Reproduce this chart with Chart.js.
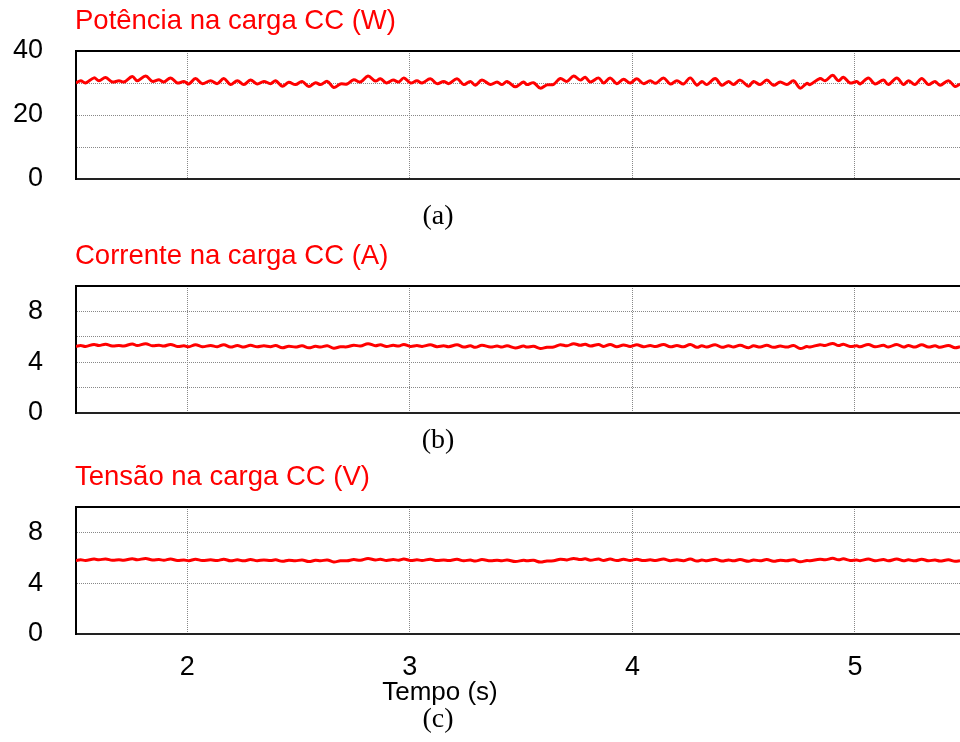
<!DOCTYPE html>
<html>
<head>
<meta charset="utf-8">
<script src="https://cdn.jsdelivr.net/npm/chart.js@4.4.1/dist/chart.umd.min.js"></script>
<style>
  body { margin: 0; background: #fff; width: 960px; height: 742px; overflow: hidden; position: relative;
         font-family: "Liberation Sans", Arial, sans-serif; }
  canvas { position: absolute; left: 0; }
  .titulo { position: absolute; left: 75px; color: #ff0000; font-size: 27.5px; line-height: 1; white-space: nowrap; }
  .legenda { position: absolute; left: 388px; width: 100px; text-align: center; line-height: 1;
             font-family: "Liberation Serif", "Times New Roman", serif; font-size: 28px; color: #000; }
  .eixo { position: absolute; left: 340px; width: 200px; text-align: center; font-size: 26px; line-height: 1; color: #000; }
  .mascara { position: absolute; left: 0; top: 421px; width: 70px; height: 9px; background: #fff; }
</style>
</head>
<body>
<canvas id="graficoPotencia" width="960" height="222" style="top:4px"></canvas>
<canvas id="graficoCorrente" width="960" height="221" style="top:239px"></canvas>
<canvas id="graficoTensao" width="960" height="242" style="top:460px"></canvas>

<div class="titulo" style="top:6px">Potência na carga CC (W)</div>
<div class="legenda" style="top:201px">(a)</div>
<div class="titulo" style="top:241px">Corrente na carga CC (A)</div>
<div class="mascara"></div>
<div class="legenda" style="top:425px">(b)</div>
<div class="titulo" style="top:462px">Tensão na carga CC (V)</div>
<div class="eixo" style="top:678px">Tempo (s)</div>
<div class="legenda" style="top:704px">(c)</div>

<script>
// tempo (s) dos pontos
const tempo = [
  1.500, 1.521, 1.543, 1.581, 1.603, 1.633, 1.663, 1.693, 1.715, 1.753,
  1.775, 1.813, 1.843, 1.873, 1.895, 1.925, 1.955, 1.985, 2.007, 2.037,
  2.067, 2.105, 2.135, 2.164, 2.194, 2.225, 2.254, 2.284, 2.314, 2.344,
  2.374, 2.397, 2.427, 2.456, 2.486, 2.516, 2.546, 2.576, 2.599, 2.629,
  2.658, 2.688, 2.718, 2.748, 2.778, 2.812, 2.845, 2.868, 2.895, 2.925,
  2.950, 2.973, 3.003, 3.032, 3.055, 3.092, 3.122, 3.152, 3.175, 3.212,
  3.242, 3.272, 3.294, 3.324, 3.362, 3.392, 3.414, 3.437, 3.474, 3.511,
  3.526, 3.556, 3.586, 3.616, 3.646, 3.676, 3.706, 3.736, 3.766, 3.788,
  3.811, 3.848, 3.871, 3.900, 3.930, 3.960, 3.990, 4.020, 4.050, 4.080,
  4.105, 4.140, 4.170, 4.200, 4.230, 4.260, 4.290, 4.312, 4.334, 4.372,
  4.402, 4.432, 4.454, 4.484, 4.522, 4.544, 4.574, 4.604, 4.634, 4.664,
  4.694, 4.724, 4.754, 4.784, 4.798, 4.843, 4.866, 4.900, 4.926, 4.948,
  4.978, 5.008, 5.023, 5.060, 5.090, 5.128, 5.150, 5.188, 5.218, 5.240,
  5.270, 5.300, 5.330, 5.360, 5.382, 5.420, 5.450, 5.472
];

// potência na carga (W)
const potencia = [
  30.0, 30.7, 30.0, 31.6, 30.7, 31.7, 30.3, 30.7, 30.3, 32.0,
  30.7, 32.2, 30.5, 31.0, 30.3, 31.6, 30.0, 30.5, 29.7, 31.4,
  29.8, 30.7, 29.8, 31.4, 29.5, 30.7, 29.5, 30.9, 29.7, 30.5,
  29.8, 30.7, 29.0, 30.2, 29.5, 30.5, 28.9, 30.1, 29.5, 30.5,
  28.6, 29.7, 29.7, 31.0, 30.3, 32.2, 30.6, 31.3, 30.0, 30.9,
  30.3, 31.6, 30.0, 30.7, 30.0, 31.3, 29.8, 30.5, 29.8, 31.3,
  29.5, 30.5, 29.3, 30.9, 29.5, 30.3, 29.5, 30.5, 28.8, 30.3,
  29.5, 30.1, 28.4, 29.4, 29.6, 31.4, 30.5, 32.2, 30.9, 31.8,
  30.3, 31.6, 30.0, 31.6, 29.8, 31.2, 30.0, 31.3, 29.8, 30.7,
  29.9, 31.6, 29.7, 30.7, 29.7, 31.6, 29.3, 30.5, 29.5, 31.4,
  29.3, 30.5, 29.5, 30.9, 29.0, 30.5, 29.5, 30.9, 29.3, 30.3,
  29.5, 30.7, 28.4, 29.9, 29.5, 31.4, 30.7, 32.4, 30.7, 31.8,
  30.0, 30.5, 29.7, 31.6, 29.7, 30.9, 29.5, 31.6, 29.5, 30.7,
  29.5, 31.4, 29.5, 30.5, 29.3, 30.7, 28.9, 29.7
];

// corrente na carga (A)
const corrente = [
  5.24, 5.31, 5.24, 5.40, 5.31, 5.41, 5.27, 5.31, 5.27, 5.44,
  5.31, 5.46, 5.29, 5.34, 5.27, 5.40, 5.24, 5.29, 5.21, 5.38,
  5.22, 5.31, 5.22, 5.38, 5.19, 5.31, 5.19, 5.33, 5.21, 5.29,
  5.22, 5.31, 5.14, 5.26, 5.19, 5.29, 5.13, 5.25, 5.19, 5.29,
  5.10, 5.21, 5.21, 5.34, 5.27, 5.46, 5.30, 5.37, 5.24, 5.33,
  5.27, 5.40, 5.24, 5.31, 5.24, 5.37, 5.22, 5.29, 5.22, 5.37,
  5.19, 5.29, 5.17, 5.33, 5.19, 5.27, 5.19, 5.29, 5.12, 5.27,
  5.19, 5.25, 5.08, 5.18, 5.20, 5.38, 5.29, 5.46, 5.33, 5.42,
  5.27, 5.40, 5.24, 5.40, 5.22, 5.36, 5.24, 5.37, 5.22, 5.31,
  5.23, 5.40, 5.21, 5.31, 5.21, 5.40, 5.17, 5.29, 5.19, 5.38,
  5.17, 5.29, 5.19, 5.33, 5.14, 5.29, 5.19, 5.33, 5.17, 5.27,
  5.19, 5.31, 5.08, 5.23, 5.19, 5.38, 5.31, 5.48, 5.31, 5.42,
  5.24, 5.29, 5.21, 5.40, 5.21, 5.33, 5.19, 5.40, 5.19, 5.31,
  5.19, 5.38, 5.19, 5.29, 5.17, 5.31, 5.13, 5.21
];

// tensão na carga (V)
const tensao = [
  5.79, 5.84, 5.79, 5.90, 5.84, 5.91, 5.81, 5.84, 5.81, 5.93,
  5.84, 5.95, 5.83, 5.86, 5.81, 5.90, 5.79, 5.83, 5.77, 5.89,
  5.78, 5.84, 5.78, 5.89, 5.76, 5.84, 5.76, 5.86, 5.77, 5.83,
  5.78, 5.84, 5.72, 5.81, 5.76, 5.83, 5.70, 5.80, 5.76, 5.83,
  5.67, 5.76, 5.77, 5.86, 5.81, 5.95, 5.83, 5.88, 5.79, 5.86,
  5.81, 5.90, 5.79, 5.84, 5.79, 5.88, 5.78, 5.83, 5.78, 5.88,
  5.76, 5.83, 5.74, 5.86, 5.76, 5.81, 5.76, 5.83, 5.70, 5.81,
  5.76, 5.80, 5.66, 5.75, 5.76, 5.89, 5.83, 5.95, 5.86, 5.92,
  5.81, 5.90, 5.79, 5.90, 5.78, 5.88, 5.79, 5.88, 5.78, 5.84,
  5.79, 5.90, 5.77, 5.84, 5.77, 5.90, 5.74, 5.83, 5.76, 5.89,
  5.74, 5.83, 5.76, 5.86, 5.72, 5.83, 5.76, 5.86, 5.72, 5.81,
  5.76, 5.84, 5.68, 5.79, 5.76, 5.89, 5.84, 5.96, 5.84, 5.92,
  5.79, 5.83, 5.77, 5.90, 5.77, 5.86, 5.76, 5.90, 5.76, 5.84,
  5.76, 5.89, 5.76, 5.83, 5.74, 5.84, 5.72, 5.77
];

const xTicks = [2, 3, 4, 5];
const xMin = 1.5;
const xMax = 5.472;

const gradePotencia = [0, 10, 20, 30, 40];
const rotulosPotencia = [0, 20, 40];
const gradeCarga = [0, 2, 4, 6, 8, 10];
const rotulosCarga = [0, 4, 8];

// y labels: 14 px half height + 33 px padding => plot starts 47 px inside the canvas
const fonteEixo = { family: '"Liberation Sans", Arial, sans-serif', size: 27, lineHeight: "28px" };

function criarPainel(id, valores, yMax, grade, rotulos, mostrarX) {
  return new Chart(document.getElementById(id), {
    type: "line",
    data: {
      datasets: [{
        data: tempo.map((t, i) => ({ x: t, y: valores[i] })),
        borderColor: "#ff0000",
        borderWidth: 3,
        pointRadius: 0,
        tension: 0.35
      }]
    },
    options: {
      responsive: false,
      animation: false,
      events: [],
      layout: { padding: 0 },
      plugins: { legend: { display: false }, tooltip: { enabled: false } },
      scales: {
        x: {
          type: "linear",
          min: xMin,
          max: xMax,
          afterBuildTicks: s => { s.ticks = xTicks.map(v => ({ value: v })); },
          ticks: { display: mostrarX, padding: 20, color: "#000", font: fonteEixo, callback: v => String(v) },
          grid: { color: "#888", lineWidth: 1, drawTicks: false },
          border: { color: "#222", width: 2, dash: [1, 1] }
        },
        xTopo: {
          type: "linear",
          position: "top",
          min: xMin,
          max: xMax,
          ticks: { display: false },
          grid: { display: false, drawTicks: false },
          border: { color: "#000", width: 2 }
        },
        y: {
          min: 0,
          max: yMax,
          afterBuildTicks: s => { s.ticks = grade.map(v => ({ value: v })); },
          afterFit: s => { s.width = 76; },
          ticks: {
            padding: 33,
            color: "#000",
            font: fonteEixo,
            callback: v => rotulos.includes(v) ? String(v) : ""
          },
          grid: {
            color: c => c.tick && (c.tick.value === 0 || c.tick.value === yMax) ? "rgba(0,0,0,0)" : "#888",
            lineWidth: 1,
            drawTicks: false
          },
          border: { color: "#000", width: 2, dash: [1, 1] }
        }
      }
    }
  });
}

criarPainel("graficoPotencia", potencia, 40, gradePotencia, rotulosPotencia, false);
criarPainel("graficoCorrente", corrente, 10, gradeCarga, rotulosCarga, false);
criarPainel("graficoTensao", tensao, 10, gradeCarga, rotulosCarga, true);
</script>
</body>
</html>
